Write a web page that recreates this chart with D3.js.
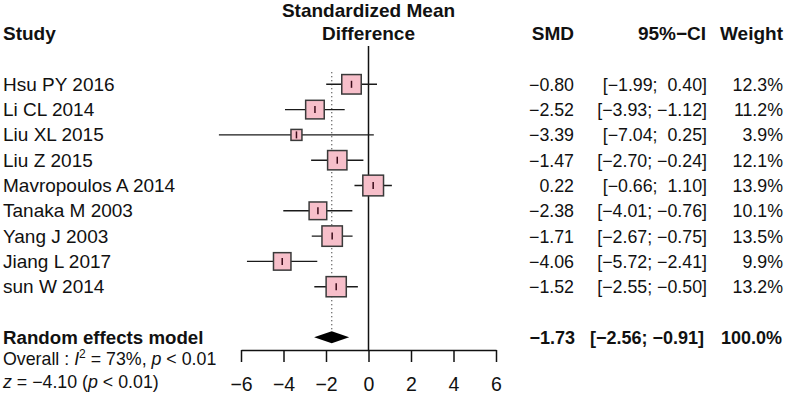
<!DOCTYPE html>
<html lang="en">
  <head>
    <meta charset="utf-8" />
    <title>Forest plot</title>
    <script src="https://cdnjs.cloudflare.com/ajax/libs/d3/7.8.5/d3.min.js"></script>
    <style type="text/css">
      body { margin: 0; background: #fff; }
      text {
        font-family: "Liberation Sans", Arial, Helvetica, sans-serif;
        fill: #111;
        white-space: pre;
      }
      .lab { font-size: 19px; }
      .num { font-size: 17.8px; }
      .head { font-size: 19px; font-weight: bold; }
    </style>
  </head>

  <body>
    <script>
      // study data
      const studies = ["Hsu PY 2016", "Li CL 2014", "Liu XL 2015", "Liu Z 2015", "Mavropoulos A 2014",
        "Tanaka M 2003", "Yang J 2003", "Jiang L 2017", "sun W 2014"];
      const smd = [-0.80, -2.52, -3.39, -1.47, 0.22, -2.38, -1.71, -4.06, -1.52];
      const lower = [-1.99, -3.93, -7.04, -2.70, -0.66, -4.01, -2.67, -5.72, -2.55];
      const upper = [0.40, -1.12, 0.25, -0.24, 1.10, -0.76, -0.75, -2.41, -0.50];
      const weight = [12.3, 11.2, 3.9, 12.1, 13.9, 10.1, 13.5, 9.9, 13.2];

      // random effects model
      const pooledLabel = "Random effects model";
      const pooled = [-1.73, -2.56, -0.91, 100.0]; // smd, lower, upper, weight
      const tickValues = [-6, -4, -2, 0, 2, 4, 6];

      const width = 787;
      const height = 398;

      const rows = studies.map((s, i) => ({
        study: s, smd: smd[i], lower: lower[i], upper: upper[i], weight: weight[i], row: i
      }));

      const x = d3.scaleLinear([-6, 6], [241, 496]);
      const y = d3.scaleLinear([0, 10], [84.3, 337.3]);
      const size = d3.scaleSqrt([0, d3.max(weight)], [0, 20.7]);

      const f2 = d3.format(".2f");
      const f1 = d3.format(".1f");
      const ci = (l, u) => `[${f2(l)}; ${u >= 0 ? " " : ""}${f2(u)}]`;

      const svg = d3.select("body").append("svg")
        .attr("width", width)
        .attr("height", height)
        .attr("viewBox", [0, 0, width, height]);

      // column positions (right edges)
      const colSMD = 574, colCI = 707, colW = 783;

      // headers
      svg.append("text").attr("class", "head").attr("x", 3).attr("y", y(-2) + 6.5).text("Study");
      svg.append("text").attr("class", "head").attr("x", x(0)).attr("y", y(-2.9) + 6.5)
        .attr("text-anchor", "middle").text("Standardized Mean");
      svg.append("text").attr("class", "head").attr("x", x(0)).attr("y", y(-2) + 6.5)
        .attr("text-anchor", "middle").text("Difference");
      [["SMD", colSMD], ["95%\u2212CI", colCI - 1], ["Weight", colW]].forEach(([t, cx]) => {
        svg.append("text").attr("class", "head").attr("x", cx).attr("y", y(-2) + 6.5)
          .attr("text-anchor", "end").text(t);
      });

      // zero line
      svg.append("line")
        .attr("x1", x(0)).attr("x2", x(0))
        .attr("y1", 46).attr("y2", 350)
        .attr("stroke", "#111").attr("stroke-width", 1.5);

      // dotted line at pooled estimate
      svg.append("line")
        .attr("x1", x(pooled[0])).attr("x2", x(pooled[0]))
        .attr("y1", y(0) - 12).attr("y2", y(10) - 7)
        .attr("stroke", "#333").attr("stroke-width", 1.2)
        .attr("stroke-dasharray", "1,3");

      // CI lines
      svg.append("g").selectAll("line").data(rows).join("line")
        .attr("x1", d => x(d.lower)).attr("x2", d => x(d.upper))
        .attr("y1", d => y(d.row)).attr("y2", d => y(d.row))
        .attr("stroke", "#1a1a1a").attr("stroke-width", 1.4);

      // squares
      svg.append("g").selectAll("rect").data(rows).join("rect")
        .attr("x", d => x(d.smd) - size(d.weight) / 2)
        .attr("y", d => y(d.row) - size(d.weight) / 2)
        .attr("width", d => size(d.weight))
        .attr("height", d => size(d.weight))
        .attr("fill", "#f7bfca")
        .attr("stroke", "#3a3a3a")
        .attr("stroke-width", 1.5);

      // mark inside square
      svg.append("g").selectAll("line").data(rows).join("line")
        .attr("x1", d => x(d.smd)).attr("x2", d => x(d.smd))
        .attr("y1", d => y(d.row) - 3.5).attr("y2", d => y(d.row) + 3.5)
        .attr("stroke", "#3a0a18").attr("stroke-width", 1.5);

      // diamond
      const yd = y(10);
      svg.append("path")
        .attr("d", `M${x(pooled[1])},${yd}L${x(pooled[0])},${yd - 6}L${x(pooled[2])},${yd}L${x(pooled[0])},${yd + 6}Z`)
        .attr("fill", "#000");

      // study labels and columns
      const g = svg.append("g");
      rows.forEach(d => {
        const ty = y(d.row) + 6.5;
        g.append("text").attr("class", "lab").attr("x", 3).attr("y", ty).text(d.study);
        g.append("text").attr("class", "num").attr("x", colSMD).attr("y", ty)
          .attr("text-anchor", "end").text(f2(d.smd));
        g.append("text").attr("class", "num").attr("x", colCI).attr("y", ty)
          .attr("text-anchor", "end").text(ci(d.lower, d.upper));
        g.append("text").attr("class", "num").attr("x", colW).attr("y", ty)
          .attr("text-anchor", "end").text(f1(d.weight) + "%");
      });

      // pooled row
      const py = y(10) + 6.5;
      svg.append("text").attr("class", "head").style("font-size", "18.7px")
        .attr("x", 3).attr("y", py).text(pooledLabel);
      svg.append("text").attr("class", "head").style("font-size", "18px").attr("x", colSMD + 1).attr("y", py)
        .attr("text-anchor", "end").text(f2(pooled[0]));
      svg.append("text").attr("class", "head").style("font-size", "18px").attr("x", colCI - 3).attr("y", py)
        .attr("text-anchor", "end").text(ci(pooled[1], pooled[2]));
      svg.append("text").attr("class", "head").style("font-size", "18px").attr("x", colW - 1).attr("y", py)
        .attr("text-anchor", "end").text(f1(pooled[3]) + "%");

      // heterogeneity
      const het = svg.append("text").attr("class", "num").attr("x", 3).attr("y", 365);
      het.append("tspan").text("Overall : ");
      het.append("tspan").style("font-style", "italic").text("I");
      het.append("tspan").attr("dy", -7).style("font-size", "12px").text("2");
      het.append("tspan").attr("dy", 7).text(" = 73%, ");
      het.append("tspan").style("font-style", "italic").text("p");
      het.append("tspan").text(" < 0.01");

      const zt = svg.append("text").attr("class", "num").attr("x", 3).attr("y", 388);
      zt.append("tspan").style("font-style", "italic").text("z");
      zt.append("tspan").text(" = \u22124.10 (");
      zt.append("tspan").style("font-style", "italic").text("p");
      zt.append("tspan").text(" < 0.01)");

      // x axis
      svg.append("g")
        .attr("transform", "translate(0,350)")
        .call(d3.axisBottom(x).tickValues(tickValues).tickSize(12).tickSizeOuter(0).tickPadding(15))
        .call(g => g.select(".domain").attr("stroke", "#111").attr("stroke-width", 1.5))
        .call(g => g.selectAll(".tick line").attr("stroke", "#111").attr("stroke-width", 1.5))
        .call(g => g.selectAll(".tick text")
          .attr("font-family", "'Liberation Sans', Arial, sans-serif")
          .attr("font-size", 19.5).attr("fill", "#111"));
    </script>
  </body>
</html>
